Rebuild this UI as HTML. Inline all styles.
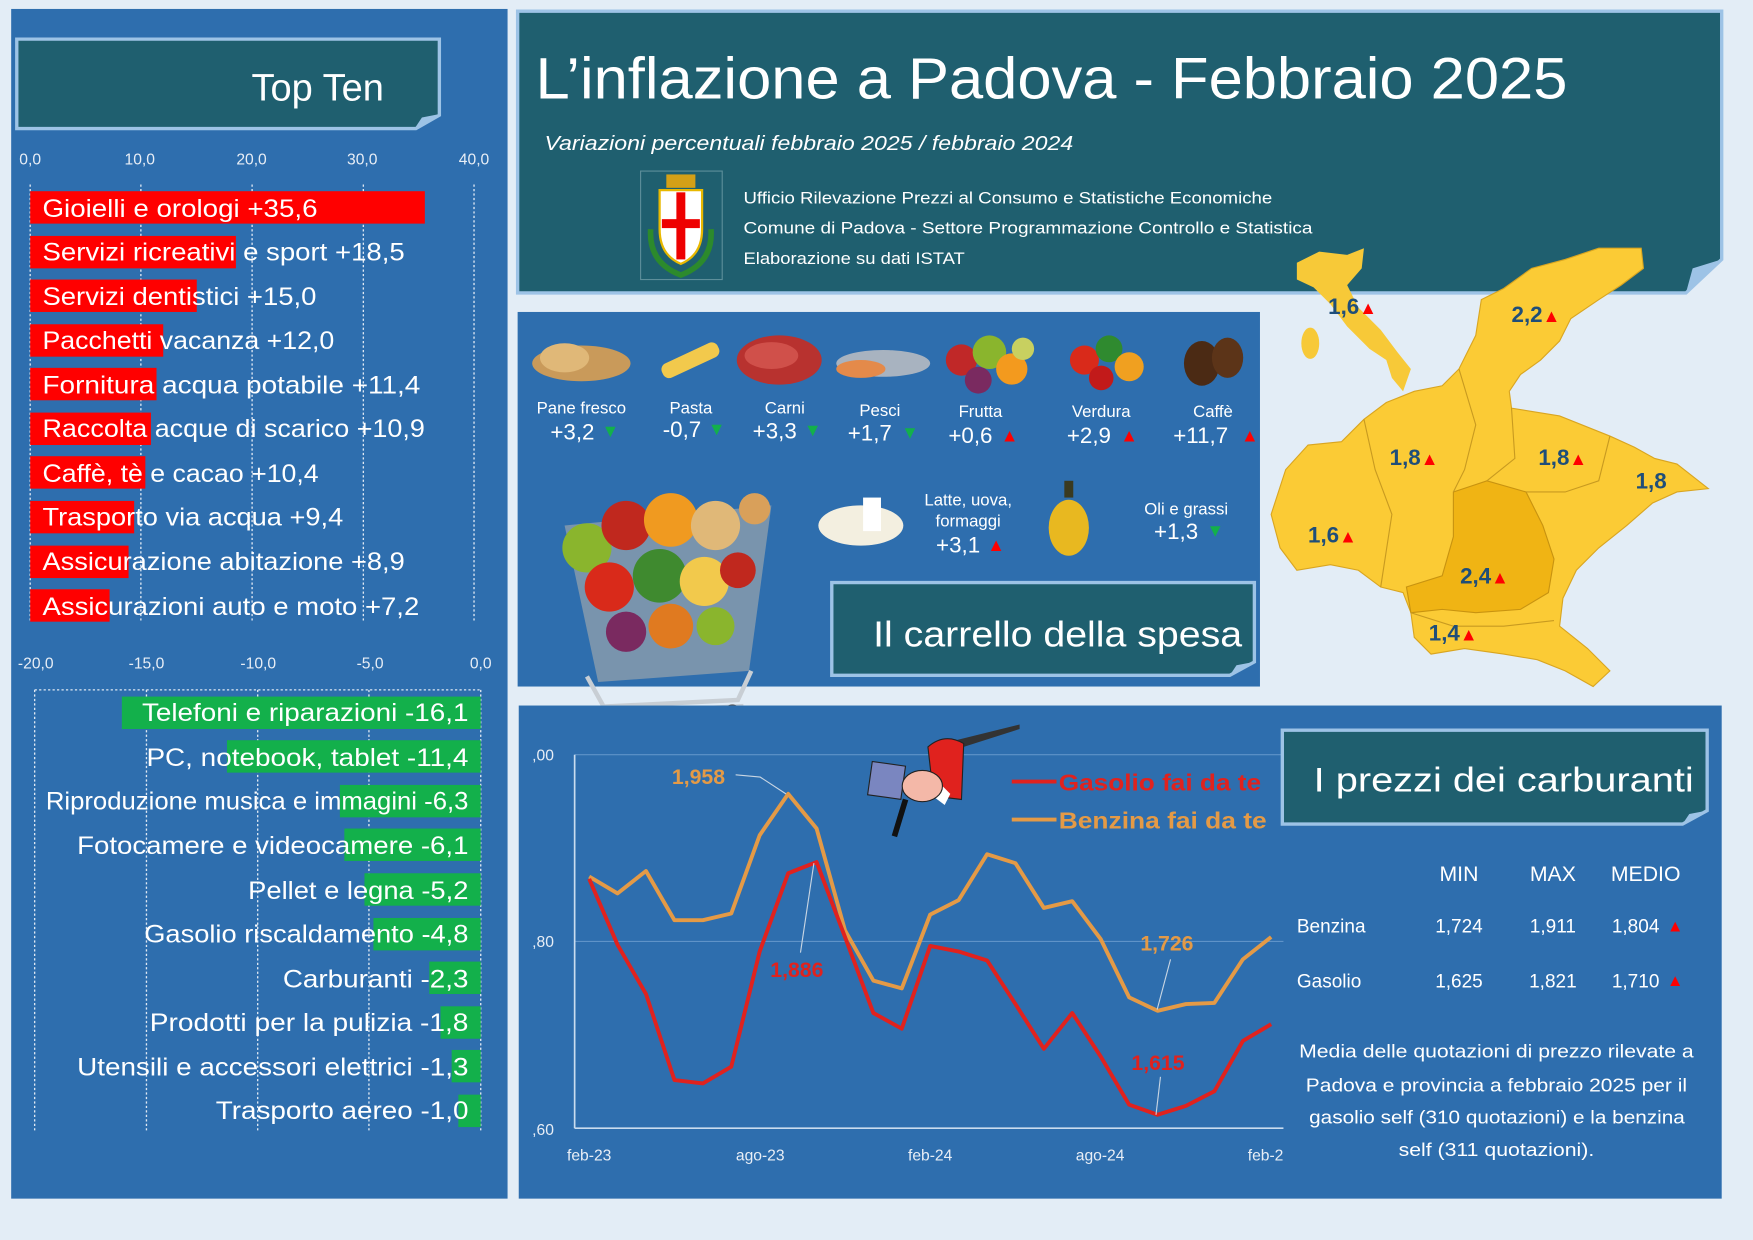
<!DOCTYPE html>
<html><head><meta charset="utf-8"><style>
html,body{margin:0;padding:0;background:#e3edf6;}
svg{display:block;font-family:"Liberation Sans",sans-serif;}
</style></head><body>
<svg width="1753" height="1240" viewBox="0 0 1568 1109" preserveAspectRatio="none" xmlns="http://www.w3.org/2000/svg">
<rect x="0" y="0" width="1568" height="1109" fill="#e3edf6"/>
<!-- LEFT PANEL -->
<rect x="10" y="8" width="444" height="1064" fill="#2e6eae"/>
<path d="M15,35 H393 V103 L372,115 H15 Z" fill="#1f5f6f" stroke="#9dc3e6" stroke-width="3"/>
<path d="M372,115 L378,106 L393,103" fill="#9dc3e6" stroke="#9dc3e6" stroke-width="2"/>
<text x="225" y="90" font-size="34" fill="#fff">Top Ten</text>
<g font-size="14" fill="#e8eef6" text-anchor="middle">
<text x="27" y="147">0,0</text><text x="125" y="147">10,0</text><text x="225" y="147">20,0</text><text x="324" y="147">30,0</text><text x="424" y="147">40,0</text>
<text x="32" y="598">-20,0</text><text x="131" y="598">-15,0</text><text x="231" y="598">-10,0</text><text x="331" y="598">-5,0</text><text x="430" y="598">0,0</text>
</g>
<g stroke="#dfe8f3" stroke-width="1.2" stroke-dasharray="2,2">
<line x1="27" y1="165" x2="27" y2="557"/><line x1="126" y1="165" x2="126" y2="557"/><line x1="225.5" y1="165" x2="225.5" y2="557"/><line x1="325" y1="165" x2="325" y2="557"/><line x1="424" y1="165" x2="424" y2="557"/>
<line x1="31" y1="617" x2="31" y2="1012"/><line x1="131" y1="617" x2="131" y2="1012"/><line x1="230.5" y1="617" x2="230.5" y2="1012"/><line x1="330" y1="617" x2="330" y2="1012"/><line x1="430" y1="617" x2="430" y2="1012"/>
<line x1="31" y1="617" x2="430" y2="617"/>
</g>
<g fill="#ff0000">
<rect x="27" y="171" width="353" height="29"/>
<rect x="27" y="211" width="184" height="29"/>
<rect x="27" y="250" width="149" height="29"/>
<rect x="27" y="290" width="119" height="29"/>
<rect x="27" y="329" width="113" height="29"/>
<rect x="27" y="369" width="108" height="29"/>
<rect x="27" y="408" width="103" height="29"/>
<rect x="27" y="448" width="93" height="29"/>
<rect x="27" y="488" width="88" height="29"/>
<rect x="27" y="527" width="71" height="29"/>
</g>
<g font-size="22" fill="#fff" lengthAdjust="spacingAndGlyphs">
<text x="38" y="194" textLength="246" lengthAdjust="spacingAndGlyphs">Gioielli e orologi +35,6</text>
<text x="38" y="233" textLength="324" lengthAdjust="spacingAndGlyphs">Servizi ricreativi e sport +18,5</text>
<text x="38" y="273" textLength="245" lengthAdjust="spacingAndGlyphs">Servizi dentistici +15,0</text>
<text x="38" y="312" textLength="261" lengthAdjust="spacingAndGlyphs">Pacchetti vacanza +12,0</text>
<text x="38" y="352" textLength="338" lengthAdjust="spacingAndGlyphs">Fornitura acqua potabile +11,4</text>
<text x="38" y="391" textLength="342" lengthAdjust="spacingAndGlyphs">Raccolta acque di scarico +10,9</text>
<text x="38" y="431" textLength="247" lengthAdjust="spacingAndGlyphs">Caffè, tè e cacao +10,4</text>
<text x="38" y="470" textLength="269" lengthAdjust="spacingAndGlyphs">Trasporto via acqua +9,4</text>
<text x="38" y="510" textLength="324" lengthAdjust="spacingAndGlyphs">Assicurazione abitazione +8,9</text>
<text x="38" y="550" textLength="337" lengthAdjust="spacingAndGlyphs">Assicurazioni auto e moto +7,2</text>
</g>
<g fill="#13b04b">
<rect x="109" y="623" width="321" height="29"/>
<rect x="203" y="662" width="227" height="29"/>
<rect x="304" y="702" width="126" height="29"/>
<rect x="308" y="741" width="122" height="29"/>
<rect x="326" y="781" width="104" height="29"/>
<rect x="334" y="821" width="96" height="29"/>
<rect x="384" y="860" width="46" height="29"/>
<rect x="394" y="900" width="36" height="29"/>
<rect x="404" y="939" width="26" height="29"/>
<rect x="410" y="979" width="20" height="29"/>
</g>
<g font-size="22" fill="#fff">
<text x="127" y="645" textLength="292" lengthAdjust="spacingAndGlyphs">Telefoni e riparazioni -16,1</text>
<text x="131" y="685" textLength="288" lengthAdjust="spacingAndGlyphs">PC, notebook, tablet -11,4</text>
<text x="41" y="724" textLength="378" lengthAdjust="spacingAndGlyphs">Riproduzione musica e immagini -6,3</text>
<text x="69" y="764" textLength="350" lengthAdjust="spacingAndGlyphs">Fotocamere e videocamere -6,1</text>
<text x="222" y="804" textLength="197" lengthAdjust="spacingAndGlyphs">Pellet e legna -5,2</text>
<text x="129" y="843" textLength="290" lengthAdjust="spacingAndGlyphs">Gasolio riscaldamento -4,8</text>
<text x="253" y="883" textLength="166" lengthAdjust="spacingAndGlyphs">Carburanti -2,3</text>
<text x="134" y="922" textLength="285" lengthAdjust="spacingAndGlyphs">Prodotti per la pulizia -1,8</text>
<text x="69" y="962" textLength="350" lengthAdjust="spacingAndGlyphs">Utensili e accessori elettrici -1,3</text>
<text x="193" y="1001" textLength="226" lengthAdjust="spacingAndGlyphs">Trasporto aereo -1,0</text>
</g>

<!-- TITLE PANEL -->
<path d="M463,10 H1540 V232 L1508,262 H463 Z" fill="#1f5f6f" stroke="#9dc3e6" stroke-width="3"/>
<path d="M1508,262 L1514,240 L1540,232" fill="#9dc3e6"/>
<text x="479" y="88" font-size="52" fill="#fff" textLength="923" lengthAdjust="spacingAndGlyphs">L’inflazione a Padova - Febbraio 2025</text>
<text x="487" y="134" font-size="18" font-style="italic" fill="#fff" textLength="473" lengthAdjust="spacingAndGlyphs">Variazioni percentuali febbraio 2025 / febbraio 2024</text>
<rect x="573" y="153" width="73" height="97" fill="#1f5f6f" stroke="#5d8f9a" stroke-width="1"/>
<path d="M590,170 H628 V205 Q628,228 609,236 Q590,228 590,205 Z" fill="#fff" stroke="#e8b800" stroke-width="2"/>
<rect x="605" y="172" width="8" height="60" fill="#e00"/><rect x="592" y="196" width="34" height="8" fill="#e00"/>
<rect x="596" y="156" width="26" height="12" fill="#d4a017"/>
<path d="M582,205 Q580,235 609,246 Q638,235 636,205" fill="none" stroke="#2c8a2c" stroke-width="5"/>
<g font-size="15" fill="#fff">
<text x="665" y="182" textLength="473" lengthAdjust="spacingAndGlyphs">Ufficio Rilevazione Prezzi al Consumo e Statistiche Economiche</text>
<text x="665" y="209" textLength="509" lengthAdjust="spacingAndGlyphs">Comune di Padova -  Settore Programmazione Controllo e Statistica</text>
<text x="665" y="236" textLength="198" lengthAdjust="spacingAndGlyphs">Elaborazione su dati ISTAT</text>
</g>

<!-- CARRELLO PANEL -->
<rect x="463" y="279" width="664" height="335" fill="#2e6eae"/>
<ellipse cx="520" cy="325" rx="44" ry="16" fill="#c99a5a"/><ellipse cx="505" cy="320" rx="22" ry="13" fill="#e0b878"/>
<rect x="590" y="315" width="55" height="14" rx="6" fill="#f2c94c" transform="rotate(-25 618 322)"/>
<ellipse cx="697" cy="322" rx="38" ry="22" fill="#b8322f"/><ellipse cx="690" cy="318" rx="24" ry="12" fill="#d0504a"/>
<ellipse cx="790" cy="325" rx="42" ry="12" fill="#a8b3c0"/><ellipse cx="770" cy="330" rx="22" ry="8" fill="#e48a4a"/>
<circle cx="860" cy="322" r="14" fill="#c02828"/><circle cx="885" cy="315" r="15" fill="#8ab52d"/><circle cx="905" cy="330" r="14" fill="#f39a1e"/><circle cx="875" cy="340" r="12" fill="#7a2a60"/><circle cx="915" cy="312" r="10" fill="#c8d060"/>
<circle cx="970" cy="322" r="13" fill="#d92a1a"/><circle cx="992" cy="312" r="12" fill="#2f8a2f"/><circle cx="1010" cy="328" r="13" fill="#f0a020"/><circle cx="985" cy="338" r="11" fill="#c21a1a"/>
<ellipse cx="1075" cy="325" rx="16" ry="20" fill="#4b2a14"/><ellipse cx="1098" cy="320" rx="14" ry="18" fill="#5c3418"/>
<g font-size="15" fill="#fff" text-anchor="middle">
<text x="520" y="370">Pane fresco</text><text x="618" y="370">Pasta</text><text x="702" y="370">Carni</text><text x="787" y="372">Pesci</text><text x="877" y="373">Frutta</text><text x="985" y="373">Verdura</text><text x="1085" y="373">Caffè</text>
<text x="866" y="452">Latte, uova,</text><text x="866" y="471">formaggi</text><text x="1061" y="460">Oli e grassi</text>
</g>
<g font-size="20" fill="#fff" text-anchor="middle">
<text x="512" y="393">+3,2</text><text x="610" y="391">-0,7</text><text x="693" y="392">+3,3</text><text x="778" y="394">+1,7</text><text x="868" y="396">+0,6</text><text x="974" y="396">+2,9</text><text x="1074" y="396">+11,7</text>
<text x="857" y="494">+3,1</text><text x="1052" y="482">+1,3</text>
</g>
<g font-size="16" text-anchor="middle">
<text x="546" y="391" fill="#13b04b">▼</text><text x="641" y="389" fill="#13b04b">▼</text><text x="727" y="390" fill="#13b04b">▼</text><text x="814" y="392" fill="#13b04b">▼</text>
<text x="903" y="395" fill="#f00">▲</text><text x="1010" y="395" fill="#f00">▲</text><text x="1118" y="395" fill="#f00">▲</text>
<text x="891" y="493" fill="#f00">▲</text><text x="1087" y="480" fill="#13b04b">▼</text>
</g>
<ellipse cx="770" cy="470" rx="38" ry="18" fill="#f3efe0"/><rect x="772" y="445" width="16" height="30" fill="#fff"/>
<rect x="952" y="430" width="8" height="15" fill="#3a3a20"/><ellipse cx="956" cy="472" rx="18" ry="25" fill="#e8b820"/>
<path d="M505,470 L690,452 L670,600 L535,610 Z" fill="#9aa4ad" opacity="0.7"/>
<circle cx="525" cy="490" r="22" fill="#8ab52d"/><circle cx="560" cy="470" r="22" fill="#c0281e"/><circle cx="600" cy="465" r="24" fill="#f09a20"/><circle cx="640" cy="470" r="22" fill="#e0b878"/><circle cx="675" cy="455" r="14" fill="#d9a05a"/>
<circle cx="545" cy="525" r="22" fill="#d92a1a"/><circle cx="590" cy="515" r="24" fill="#3f8a2f"/><circle cx="630" cy="520" r="22" fill="#f2c94c"/><circle cx="660" cy="510" r="16" fill="#c0281e"/>
<circle cx="560" cy="565" r="18" fill="#7a2a60"/><circle cx="600" cy="560" r="20" fill="#e07a20"/><circle cx="640" cy="560" r="17" fill="#8ab52d"/>
<path d="M525,605 L540,632 L660,626 L672,600" fill="none" stroke="#c8ced4" stroke-width="4"/>
<line x1="520" y1="640" x2="665" y2="632" stroke="#c8ced4" stroke-width="5"/>
<circle cx="528" cy="652" r="7" fill="#555"/><circle cx="567" cy="659" r="8" fill="#555"/><circle cx="620" cy="650" r="7" fill="#555"/><circle cx="655" cy="637" r="7" fill="#555"/>
<path d="M744,521 H1122 V592 L1100,604 H744 Z" fill="#1f5f6f" stroke="#9dc3e6" stroke-width="3"/>
<path d="M1100,604 L1106,595 L1122,592" fill="#9dc3e6"/>
<text x="781" y="578" font-size="32" fill="#fff" textLength="330" lengthAdjust="spacingAndGlyphs">Il carrello della spesa</text>

<!-- MAP -->
<path d="M1160,235 L1180,225 L1205,228 L1220,222 L1218,240 L1205,255 L1215,275 L1235,295 L1250,315 L1262,330 L1255,350 L1245,338 L1240,322 L1225,312 L1205,292 L1190,272 L1175,257 L1160,250 Z" fill="#f7c938"/>
<ellipse cx="1172" cy="307" rx="8" ry="14" fill="#f7c938"/>
<path d="M1325,268 L1345,258 L1370,240 L1400,232 L1430,222 L1468,222 L1470,240 L1450,255 L1430,268 L1405,285 L1395,305 L1378,322 L1360,335 L1350,350 L1352,365 L1395,372 L1440,390 L1462,400 L1480,410 L1500,415 L1528,437 L1500,440 L1478,450 L1455,470 L1430,490 L1410,510 L1398,535 L1395,560 L1420,580 L1440,600 L1425,614 L1400,600 L1375,590 L1345,585 L1310,580 L1280,585 L1265,570 L1262,548 L1255,530 L1235,525 L1215,510 L1190,505 L1160,510 L1145,490 L1137,460 L1150,420 L1170,398 L1200,395 L1220,375 L1240,360 L1265,350 L1290,345 L1305,330 L1320,300 Z" fill="#fbcb35" stroke="#d9a520" stroke-width="1"/>
<path d="M1300,440 L1330,430 L1365,440 L1380,470 L1390,500 L1385,530 L1360,545 L1320,548 L1290,545 L1262,548 L1258,525 L1290,515 L1300,480 Z" fill="#f0b414" stroke="#c89310" stroke-width="1"/>
<g fill="none" stroke="#c89a20" stroke-width="1">
<path d="M1220,375 L1230,420 L1245,460 L1235,525"/>
<path d="M1305,330 L1320,380 L1310,420 L1300,440"/>
<path d="M1352,365 L1355,410 L1330,430"/>
<path d="M1440,390 L1430,430 L1400,440 L1365,440"/>
<path d="M1262,548 L1300,560 L1345,560 L1390,555"/>
</g>
<g font-size="20" font-weight="bold" fill="#1f4e79">
<text x="1188" y="281">1,6<tspan fill="#f00" font-size="16">▲</tspan></text>
<text x="1352" y="288">2,2<tspan fill="#f00" font-size="16">▲</tspan></text>
<text x="1243" y="416">1,8<tspan fill="#f00" font-size="16">▲</tspan></text>
<text x="1376" y="416">1,8<tspan fill="#f00" font-size="16">▲</tspan></text>
<text x="1463" y="437">1,8</text>
<text x="1170" y="485">1,6<tspan fill="#f00" font-size="16">▲</tspan></text>
<text x="1306" y="522">2,4<tspan fill="#f00" font-size="16">▲</tspan></text>
<text x="1278" y="573">1,4<tspan fill="#f00" font-size="16">▲</tspan></text>
</g>

<!-- FUEL PANEL -->
<rect x="464" y="631" width="1076" height="441" fill="#2e6eae"/>
<g font-size="14" fill="#e8eef6">
<text x="476" y="680">,00</text><text x="476" y="847">,80</text><text x="476" y="1015">,60</text>
</g>
<line x1="514" y1="842" x2="1148" y2="842" stroke="#5f93c8" stroke-width="1"/>
<line x1="514" y1="675" x2="1148" y2="675" stroke="#5f93c8" stroke-width="1"/>
<line x1="514" y1="675" x2="514" y2="1009" stroke="#c9dcef" stroke-width="1.5"/>
<line x1="514" y1="1009" x2="1148" y2="1009" stroke="#c9dcef" stroke-width="1.5"/>
<g font-size="14" fill="#e8eef6" text-anchor="middle">
<text x="527" y="1038">feb-23</text><text x="680" y="1038">ago-23</text><text x="832" y="1038">feb-24</text><text x="984" y="1038">ago-24</text><text x="1132" y="1038">feb-2</text>
</g>
<polyline fill="none" stroke="#e49a46" stroke-width="3.5" stroke-linejoin="round" points="527,784 552.4,799 577.8,779 603.3,823 628.7,823 654.1,817 679.5,747 705,710 730.4,741 755.8,832 781.2,877 806.6,884 832,818 857.5,805 882.9,764 908.3,772 933.7,812 959.1,806 984.6,840 1010,892 1035.4,904 1060.8,898 1086.2,897 1111.7,858 1137,838"/>
<polyline fill="none" stroke="#e0221e" stroke-width="3.5" stroke-linejoin="round" points="527,786 552.4,845 577.8,889 603.3,966 628.7,969 654.1,954 679.5,851 705,781 730.4,771 755.8,838 781.2,906 806.6,920 832,846 857.5,851 882.9,859 908.3,898 933.7,938 959.1,906 984.6,945 1010,988 1035.4,997 1060.8,989 1086.2,976 1111.7,931 1137,916"/>
<g stroke="#c9d6e3" stroke-width="1" fill="none">
<path d="M658,693 L680,695 L703,710"/><path d="M716,852 L728,772"/><path d="M1047,858 L1035,903"/><path d="M1038,963 L1034,997"/>
</g>
<g font-size="19" font-weight="bold">
<text x="601" y="701" fill="#e49a46">1,958</text>
<text x="689" y="874" fill="#e0221e">1,886</text>
<text x="1020" y="850" fill="#e49a46">1,726</text>
<text x="1012" y="957" fill="#e0221e">1,615</text>
</g>
<line x1="905" y1="699" x2="945" y2="699" stroke="#e0221e" stroke-width="3.5"/>
<line x1="905" y1="733" x2="945" y2="733" stroke="#e49a46" stroke-width="3.5"/>
<text x="947" y="707" font-size="21" font-weight="bold" fill="#e0221e" textLength="181" lengthAdjust="spacingAndGlyphs">Gasolio fai da te</text>
<text x="947" y="741" font-size="21" font-weight="bold" fill="#e49a46" textLength="186" lengthAdjust="spacingAndGlyphs">Benzina fai da te</text>
<path d="M855,662 L912,648 L912,652 L862,668 Z" fill="#333"/>
<path d="M830,668 Q845,655 862,665 L860,715 L835,712 Z" fill="#e0221e" stroke="#222" stroke-width="1"/>
<path d="M830,690 L850,710 L845,720 L825,705 Z" fill="#fff"/>
<rect x="778" y="683" width="30" height="30" fill="#7a86c0" stroke="#222" stroke-width="1" transform="rotate(8 793 698)"/>
<ellipse cx="825" cy="703" rx="18" ry="14" fill="#f4b8a8" stroke="#222" stroke-width="1"/>
<path d="M810,715 L800,748" stroke="#111" stroke-width="5"/>
<path d="M1147,653 H1527 V725 L1505,737 H1147 Z" fill="#1f5f6f" stroke="#9dc3e6" stroke-width="3"/>
<path d="M1505,737 L1511,728 L1527,725" fill="#9dc3e6"/>
<text x="1175" y="708" font-size="31" fill="#fff" textLength="340" lengthAdjust="spacingAndGlyphs">I prezzi dei carburanti</text>
<g font-size="19" fill="#fff" text-anchor="middle">
<text x="1305" y="788">MIN</text><text x="1389" y="788">MAX</text><text x="1472" y="788">MEDIO</text>
</g>
<g font-size="17" fill="#fff">
<text x="1160" y="834">Benzina</text><text x="1160" y="883">Gasolio</text>
<g text-anchor="middle">
<text x="1305" y="834">1,724</text><text x="1389" y="834">1,911</text><text x="1463" y="834">1,804</text>
<text x="1305" y="883">1,625</text><text x="1389" y="883">1,821</text><text x="1463" y="883">1,710</text>
</g>
<text x="1491" y="833" fill="#f00" font-size="15">▲</text><text x="1491" y="882" fill="#f00" font-size="15">▲</text>
</g>
<g font-size="16.5" fill="#fff">
<text x="1162" y="946" textLength="353" lengthAdjust="spacingAndGlyphs">Media delle quotazioni di prezzo rilevate a</text>
<text x="1168" y="976" textLength="341" lengthAdjust="spacingAndGlyphs">Padova e provincia a febbraio 2025 per il</text>
<text x="1171" y="1005" textLength="336" lengthAdjust="spacingAndGlyphs">gasolio self (310 quotazioni) e la benzina</text>
<text x="1251" y="1034" textLength="175" lengthAdjust="spacingAndGlyphs">self (311 quotazioni).</text>
</g>
</svg>
</body></html>
